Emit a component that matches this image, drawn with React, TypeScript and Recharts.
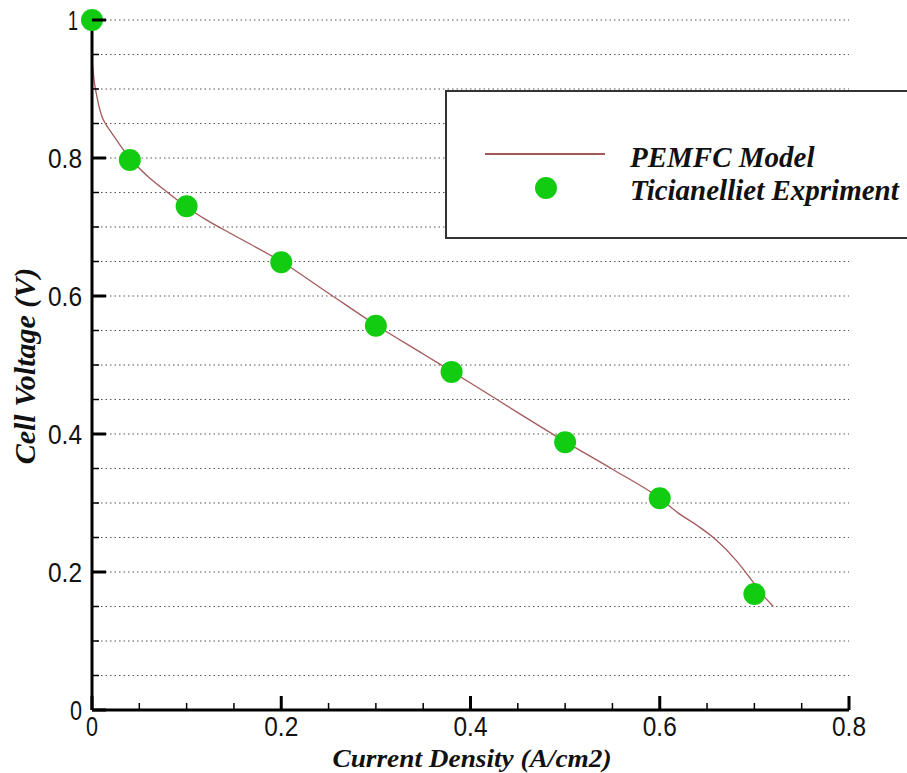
import { ComposedChart, Line, Scatter, XAxis, YAxis, CartesianGrid } from "recharts";

// Polarisation curve: model line and experimental points
const modelCurrent = [
  0, 0.002, 0.005, 0.01, 0.015, 0.02, 0.03, 0.04, 0.06, 0.08, 0.1, 0.12, 0.15, 0.2, 0.25, 0.3, 0.35,
  0.4, 0.45, 0.5, 0.55, 0.6, 0.62, 0.64, 0.66, 0.68, 0.7, 0.71, 0.72,
];
const modelVoltage = [
  0.945, 0.915, 0.89, 0.862, 0.848, 0.838, 0.818, 0.8, 0.772, 0.75, 0.729, 0.711, 0.688, 0.65, 0.604,
  0.558, 0.516, 0.474, 0.431, 0.389, 0.349, 0.307, 0.285, 0.267, 0.246, 0.218, 0.183, 0.165, 0.15,
];

const expCurrent = [0, 0.04, 0.1, 0.2, 0.3, 0.38, 0.5, 0.6, 0.7];
const expVoltage = [1.0, 0.797, 0.73, 0.649, 0.557, 0.49, 0.388, 0.307, 0.168];

const xTicks = [0, 0.05, 0.1, 0.15, 0.2, 0.25, 0.3, 0.35, 0.4, 0.45, 0.5, 0.55, 0.6, 0.65, 0.7, 0.75, 0.8];
const yTicks = [
  0, 0.05, 0.1, 0.15, 0.2, 0.25, 0.3, 0.35, 0.4, 0.45, 0.5, 0.55, 0.6, 0.65, 0.7, 0.75, 0.8, 0.85, 0.9,
  0.95, 1,
];
const xMajor = [0, 0.2, 0.4, 0.6, 0.8];
const yMajor = [0, 0.2, 0.4, 0.6, 0.8, 1];

const modelData = modelCurrent.map((x, i) => ({ x, y: modelVoltage[i] }));
const expData = expCurrent.map((x, i) => ({ x, y: expVoltage[i] }));

const LINE_COLOR = "#a35a5a";
const DOT_COLOR = "#12cc12";
const tickFont = "'Liberation Sans', Arial, sans-serif";
const titleFont = "'Liberation Serif', 'Times New Roman', serif";

// tick labels are drawn a bit condensed
const labelWidth = (s: string) => (s.length === 1 ? 12 : 34);

function XTick(props: any) {
  const { x, y, payload } = props;
  const major = xMajor.includes(payload.value);
  const label = String(payload.value);
  return (
    <g>
      <line x1={x} x2={x} y1={y} y2={y - (major ? 14 : 7)} stroke="#000" strokeWidth={major ? 3 : 1.5} />
      {major && (
        <text x={x} y={y + 26} textAnchor="middle" fontFamily={tickFont} fontSize={27} fill="#111"
          textLength={labelWidth(label)} lengthAdjust="spacingAndGlyphs">
          {label}
        </text>
      )}
    </g>
  );
}

function YTick(props: any) {
  const { x, y, payload } = props;
  const major = yMajor.includes(payload.value);
  const label = String(payload.value);
  const top = payload.value === 1;
  return (
    <g>
      <line x1={x} x2={x + (major ? 14 : 7)} y1={y} y2={y} stroke="#000" strokeWidth={major ? 3 : 1.5} />
      {major && (
        <text x={x - (top ? 14 : 10)} y={y + 10} textAnchor="end" fontFamily={tickFont} fontSize={28} fill="#111"
          textLength={top ? 10 : labelWidth(label)} lengthAdjust="spacingAndGlyphs">
          {label}
        </text>
      )}
    </g>
  );
}

const Dot = (props: any) => <circle cx={props.cx} cy={props.cy} r={11} fill={DOT_COLOR} />;

export default function App() {
  return (
    <div style={{ position: "absolute", left: 0, top: 0, width: 907, height: 773, overflow: "hidden", background: "#fff" }}>
      <ComposedChart width={907} height={773} margin={{ top: 20, right: 58, bottom: 0, left: 0 }}>
        <CartesianGrid vertical={false} stroke="#555" strokeDasharray="1.5 3" strokeWidth={1.2} />
        <XAxis
          dataKey="x"
          type="number"
          domain={[0, 0.8]}
          ticks={xTicks}
          interval={0}
          height={63}
          tickSize={0}
          tickMargin={0}
          tickLine={false}
          axisLine={{ stroke: "#000", strokeWidth: 3 }}
          tick={XTick}
          allowDuplicatedCategory={false}
        />
        <YAxis
          type="number"
          domain={[0, 1]}
          ticks={yTicks}
          interval={0}
          width={92}
          tickSize={0}
          tickMargin={0}
          tickLine={false}
          axisLine={{ stroke: "#000", strokeWidth: 3 }}
          tick={YTick}
        />
        <Line
          data={modelData}
          dataKey="y"
          type="monotone"
          stroke={LINE_COLOR}
          strokeWidth={1.3}
          dot={false}
          activeDot={false}
          isAnimationActive={false}
        />
        <Scatter data={expData} dataKey="y" shape={Dot} isAnimationActive={false} />
      </ComposedChart>

      <div style={{ position: "absolute", left: 472, top: 748, transform: "translateX(-50%) scaleX(1.05)", whiteSpace: "nowrap",
        fontFamily: titleFont, fontWeight: "bold", fontStyle: "italic", fontSize: 26, color: "#111", lineHeight: "22px" }}>
        Current Density (A/cm2)
      </div>
      <div style={{ position: "absolute", left: 25, top: 366, transform: "translate(-50%, -50%) rotate(-90deg)", whiteSpace: "nowrap",
        fontFamily: titleFont, fontWeight: "bold", fontStyle: "italic", fontSize: 30, color: "#111", lineHeight: "30px" }}>
        Cell Voltage (V)
      </div>

      <div style={{ position: "absolute", left: 445, top: 90, width: 480, height: 145, border: "2px solid #333", background: "#fff" }}>
        <svg width={180} height={145} style={{ position: "absolute", left: 0, top: 0 }}>
          <line x1={38} x2={158} y1={62} y2={62} stroke={LINE_COLOR} strokeWidth={2} />
          <circle cx={99} cy={96} r={11} fill={DOT_COLOR} />
        </svg>
        <div style={{ position: "absolute", left: 183, top: 49, fontFamily: titleFont, fontWeight: "bold", fontStyle: "italic",
          fontSize: 29, color: "#111", lineHeight: "33px", whiteSpace: "nowrap" }}>
          <div>PEMFC Model</div>
          <div>Ticianelliet Expriment</div>
        </div>
      </div>
    </div>
  );
}
